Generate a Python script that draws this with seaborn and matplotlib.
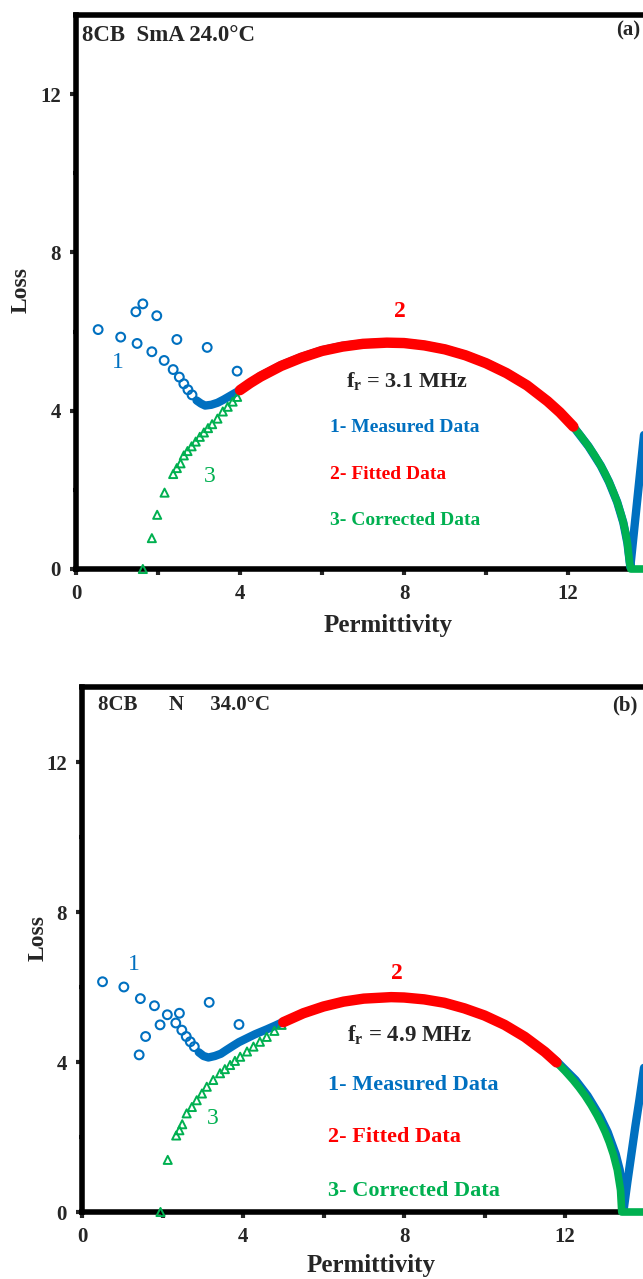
import seaborn as sns
import matplotlib.pyplot as plt
from matplotlib.ticker import MultipleLocator, FixedLocator

# ---- data ----
# panel (a) 8CB SmA 24.0 C
meas_a_x = [0.54, 1.09, 1.46, 1.63, 1.49, 1.97, 1.85, 2.46, 3.20, 3.93,
            2.15, 2.37, 2.52, 2.63, 2.73, 2.83]
meas_a_y = [6.05, 5.86, 6.50, 6.70, 5.70, 6.40, 5.49, 5.80, 5.60, 5.00,
            5.27, 5.04, 4.85, 4.68, 4.53, 4.40]
meas_a_dense_x = [2.94, 3.05, 3.15, 3.30, 3.45, 3.60, 3.75, 3.90, 4.05, 4.50, 5.00, 5.50,
                  6.00, 6.50, 7.00, 7.58, 8.00, 8.50, 9.00, 9.50, 10.0, 10.5, 11.0, 11.5,
                  12.13, 12.5, 12.8, 13.0, 13.2, 13.35, 13.45, 13.52, 13.6, 13.7, 13.8,
                  13.9, 14.0]
meas_a_dense_y = [4.26, 4.18, 4.13, 4.15, 4.20, 4.28, 4.37, 4.46, 4.55, 4.88, 5.15, 5.36,
                  5.53, 5.64, 5.70, 5.73, 5.72, 5.66, 5.56, 5.41, 5.21, 4.96, 4.65, 4.25,
                  3.60, 3.10, 2.61, 2.20, 1.69, 1.17, 0.65, 0.05, 0.85, 1.85, 2.85,
                  3.85, 4.85]
fit_a_x = [4.00, 4.25, 4.50, 5.00, 5.50, 6.00, 6.50, 7.00, 7.58, 8.00, 8.50, 9.00,
           9.50, 10.0, 10.5, 11.0, 11.5, 11.8, 12.13]
fit_a_y = [4.52, 4.70, 4.86, 5.13, 5.34, 5.51, 5.62, 5.69, 5.72, 5.71, 5.65, 5.55,
           5.40, 5.20, 4.95, 4.64, 4.24, 3.96, 3.60]
corr_a_x = [1.63, 1.85, 1.98, 2.16, 2.37, 2.46, 2.55, 2.63, 2.72, 2.82, 2.92, 3.02,
            3.12, 3.22, 3.32, 3.45, 3.58, 3.70, 3.82, 3.93]
corr_a_y = [0.00, 0.78, 1.37, 1.93, 2.40, 2.55, 2.67, 2.87, 2.98, 3.10, 3.22, 3.34,
            3.45, 3.56, 3.66, 3.80, 3.98, 4.10, 4.23, 4.35]
corr_a_tail_x = [12.13, 12.3, 12.5, 12.65, 12.8, 12.9, 13.0, 13.1, 13.2, 13.3, 13.35,
                 13.4, 13.45, 13.5, 13.53, 14.0, 14.5, 15.0, 16.0]
corr_a_tail_y = [3.60, 3.38, 3.10, 2.87, 2.61, 2.42, 2.20, 1.96, 1.69, 1.36, 1.17,
                 0.94, 0.65, 0.18, 0.00, 0.00, 0.00, 0.00, 0.00]

# panel (b) 8CB N 34.0 C
meas_b_x = [0.51, 1.04, 1.45, 1.80, 2.12, 2.42, 1.94, 1.58, 1.42, 3.16, 3.90,
            2.33, 2.48, 2.59, 2.69, 2.79]
meas_b_y = [6.14, 6.00, 5.69, 5.50, 5.26, 5.30, 4.99, 4.68, 4.19, 5.59, 5.00,
            5.04, 4.85, 4.68, 4.54, 4.41]
meas_b_dense_x = [2.90, 3.02, 3.14, 3.30, 3.45, 3.59, 3.75, 3.90, 4.09, 4.30, 4.59, 4.80,
                  5.00, 5.50, 6.00, 6.50, 7.00, 7.68, 8.00, 8.50, 9.00, 9.50, 10.0, 10.5,
                  11.0, 11.5, 11.82, 12.26, 12.56, 12.86, 13.06, 13.26, 13.36, 13.42,
                  13.46, 13.55, 13.65, 13.75, 13.85, 13.95, 14.05]
meas_b_dense_y = [4.26, 4.16, 4.12, 4.16, 4.22, 4.32, 4.43, 4.53, 4.63, 4.74, 4.87, 4.97,
                  5.07, 5.30, 5.48, 5.61, 5.69, 5.73, 5.72, 5.67, 5.58, 5.43, 5.24, 4.99,
                  4.67, 4.27, 3.99, 3.52, 3.10, 2.57, 2.13, 1.54, 1.12, 0.60,
                  0.08, 0.80, 1.55, 2.30, 3.00, 3.75, 4.50]
fit_b_x = [5.00, 5.50, 6.00, 6.50, 7.00, 7.68, 8.00, 8.50, 9.00, 9.50, 10.0, 10.5,
           11.0, 11.5, 11.79]
fit_b_y = [5.06, 5.30, 5.48, 5.61, 5.69, 5.73, 5.72, 5.67, 5.58, 5.43, 5.24, 4.99,
           4.67, 4.27, 3.99]
corr_b_x = [1.95, 2.13, 2.34, 2.42, 2.49, 2.60, 2.73, 2.85, 2.98, 3.10, 3.26, 3.43,
            3.55, 3.68, 3.80, 3.93, 4.10, 4.26, 4.42, 4.59, 4.78, 4.96]
corr_b_y = [0.00, 1.39, 2.04, 2.18, 2.34, 2.63, 2.80, 2.98, 3.16, 3.34, 3.52, 3.70,
            3.81, 3.92, 4.03, 4.14, 4.28, 4.41, 4.54, 4.67, 4.83, 4.99]
corr_b_tail_x = [11.79, 12.0, 12.2, 12.35, 12.5, 12.65, 12.8, 12.9, 13.0, 13.1, 13.2,
                 13.3, 13.38, 13.41, 14.0, 15.0, 16.0]
corr_b_tail_y = [3.99, 3.76, 3.52, 3.32, 3.10, 2.85, 2.57, 2.36, 2.13, 1.86, 1.54,
                 1.12, 0.58, 0.00, 0.00, 0.00, 0.00]

major_ticks = [0, 4, 8, 12]

BLUE = '#0070C0'
RED = '#FF0000'
GREEN = '#00B050'

sns.set_style('ticks')
plt.rcParams['font.family'] = ['Liberation Serif', 'DejaVu Serif']
plt.rcParams['mathtext.fontset'] = 'custom'
plt.rcParams['mathtext.rm'] = 'Liberation Serif:bold'
plt.rcParams['mathtext.it'] = 'Liberation Serif:bold'
plt.rcParams['mathtext.bf'] = 'Liberation Serif:bold'

fig = plt.figure(figsize=(6.43, 12.79), dpi=100)
ax_a = fig.add_axes([76 / 643, (1279 - 569) / 1279, 656 / 643, 554 / 1279])
ax_b = fig.add_axes([82 / 643, (1279 - 1212) / 1279, 644 / 643, 525 / 1279])


def draw_panel(ax, mx, my, mdx, mdy, fx, fy, cx, cy, ctx, cty):
    # measured data: dense band + sparse open circles
    sns.lineplot(x=mdx, y=mdy, ax=ax, sort=False, estimator=None, color=BLUE,
                 linewidth=6, solid_capstyle='round', clip_on=False, zorder=3)
    sns.scatterplot(x=mx, y=my, ax=ax, marker='o', s=40, facecolors='none',
                    edgecolor=BLUE, linewidth=1.5, zorder=3)
    # corrected data: triangles
    sns.scatterplot(x=cx, y=cy, ax=ax, marker='^', s=34, facecolors='none',
                    edgecolor=GREEN, linewidth=1.4, zorder=4, clip_on=False)
    sns.lineplot(x=ctx, y=cty, ax=ax, sort=False, estimator=None, color=GREEN,
                 linewidth=5.5, solid_capstyle='butt', clip_on=False, zorder=4)
    # fitted data
    sns.lineplot(x=fx, y=fy, ax=ax, sort=False, estimator=None, color=RED,
                 linewidth=7.5, solid_capstyle='round', zorder=5)

    ax.set_xlim(0, 16)
    ax.set_ylim(0, 14)
    ax.xaxis.set_major_locator(FixedLocator(major_ticks))
    ax.xaxis.set_minor_locator(MultipleLocator(2))
    ax.yaxis.set_major_locator(FixedLocator(major_ticks))
    ax.yaxis.set_minor_locator(MultipleLocator(2))
    ax.tick_params(axis='both', which='major', direction='out', length=4, width=3,
                   labelsize=15, pad=7)
    ax.tick_params(axis='x', which='minor', direction='out', length=4, width=3)
    ax.tick_params(axis='y', which='minor', direction='out', length=2, width=3)
    for lab in ax.get_xticklabels() + ax.get_yticklabels():
        lab.set_fontweight('bold')
    for sp in ax.spines.values():
        sp.set_linewidth(4)
        sp.set_color('black')
        sp.set_zorder(2)
    ax.set_xlabel('Permittivity', fontsize=18, fontweight='bold')
    ax.set_ylabel('Loss', fontsize=17, fontweight='bold')


draw_panel(ax_a, meas_a_x, meas_a_y, meas_a_dense_x, meas_a_dense_y, fit_a_x, fit_a_y,
           corr_a_x, corr_a_y, corr_a_tail_x, corr_a_tail_y)
draw_panel(ax_b, meas_b_x, meas_b_y, meas_b_dense_x, meas_b_dense_y, fit_b_x, fit_b_y,
           corr_b_x, corr_b_y, corr_b_tail_x, corr_b_tail_y)

ax_a.xaxis.set_label_coords(0.476, -0.081)
ax_a.yaxis.set_label_coords(-0.068, 0.504)
ax_b.xaxis.set_label_coords(0.449, -0.080)
ax_b.yaxis.set_label_coords(-0.052, 0.522)

# panel (a) annotations
ax_a.text(0.15, 13.47, '8CB  SmA 24.0°C', fontsize=16.5, fontweight='bold', va='center')
ax_a.text(13.76, 13.62, '(a)', fontsize=15, fontweight='bold', ha='right', va='center')
ax_a.text(1.02, 5.22, '1', color=BLUE, fontsize=17, ha='center', va='center')
ax_a.text(7.9, 6.5, '2', color=RED, fontsize=17, fontweight='bold', ha='center', va='center')
ax_a.text(3.27, 2.35, '3', color=GREEN, fontsize=17, ha='center', va='center')
ax_a.text(6.59, 4.76, r'f$_\mathrm{r}$ = 3.1 MHz', fontsize=16, fontweight='bold', va='center')
ax_a.text(6.2, 3.57, '1- Measured Data', color=BLUE, fontsize=14, fontweight='bold', va='center')
ax_a.text(6.2, 2.40, '2- Fitted Data', color=RED, fontsize=14, fontweight='bold', va='center')
ax_a.text(6.2, 1.22, '3- Corrected Data', color=GREEN, fontsize=14, fontweight='bold', va='center')

# panel (b) annotations
ax_b.text(0.40, 13.52, '8CB      N     34.0°C', fontsize=15, fontweight='bold', va='center')
ax_b.text(13.8, 13.52, '(b)', fontsize=15, fontweight='bold', ha='right', va='center')
ax_b.text(1.29, 6.59, '1', color=BLUE, fontsize=17, ha='center', va='center')
ax_b.text(7.83, 6.35, '2', color=RED, fontsize=17, fontweight='bold', ha='center', va='center')
ax_b.text(3.24, 2.5, '3', color=GREEN, fontsize=17, ha='center', va='center')
ax_b.text(6.58, 4.72, r'f$_\mathrm{r}$ = 4.9 MHz', fontsize=16.5, fontweight='bold', va='center')
ax_b.text(6.12, 3.39, '1- Measured Data', color=BLUE, fontsize=16, fontweight='bold', va='center')
ax_b.text(6.12, 2.00, '2- Fitted Data', color=RED, fontsize=16, fontweight='bold', va='center')
ax_b.text(6.12, 0.57, '3- Corrected Data', color=GREEN, fontsize=16, fontweight='bold', va='center')

fig.savefig('out.png', dpi=100)
